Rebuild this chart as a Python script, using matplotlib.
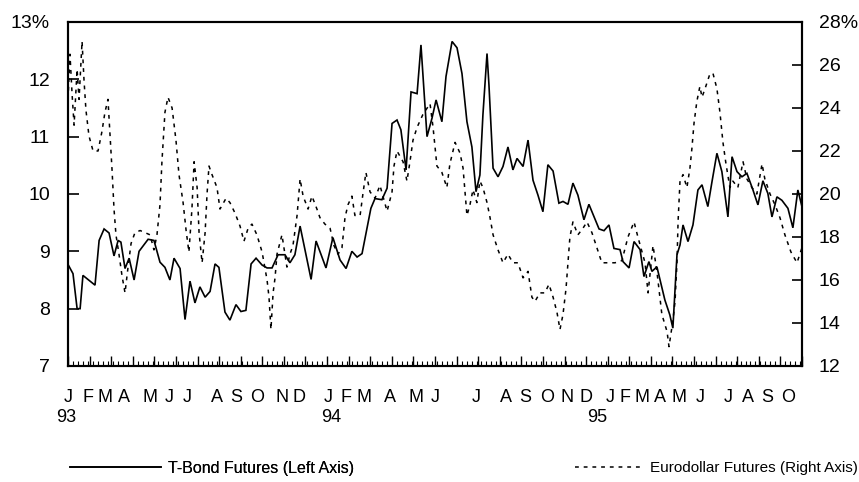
import matplotlib
matplotlib.use('Agg')
import matplotlib.pyplot as plt
import matplotlib.transforms as mtransforms
from matplotlib.ticker import MultipleLocator
from matplotlib.lines import Line2D

plt.rcParams['font.family'] = ['Liberation Sans', 'DejaVu Sans']

# time in months since Jan 1993 (0 = start of Jan 93)
tbond_t = [0.00, 0.23, 0.42, 0.56, 0.69, 1.25, 1.44, 1.67, 1.90, 2.13, 2.32, 2.45, 2.64, 2.83,
           3.06, 3.29, 3.71, 3.98, 4.26, 4.49, 4.72, 4.91, 5.19, 5.42, 5.65, 5.88, 6.11, 6.35,
           6.58, 6.81, 6.99, 7.27, 7.50, 7.78, 8.01, 8.24, 8.48, 8.71, 8.99, 9.22, 9.45, 9.73,
           10.05, 10.28, 10.51, 10.75, 11.26, 11.49, 11.95, 12.27, 12.60, 12.88, 13.15, 13.39,
           13.62, 14.03, 14.22, 14.54, 14.78, 15.01, 15.24, 15.42, 15.66, 15.89, 16.17, 16.35,
           16.63, 16.86, 17.05, 17.32, 17.51, 17.79, 18.02, 18.25, 18.48, 18.71, 18.90, 19.08,
           19.22, 19.41, 19.50, 19.69, 19.92, 20.15, 20.38, 20.61, 20.80, 21.08, 21.31, 21.54,
           21.77, 22.00, 22.23, 22.47, 22.74, 22.93, 23.16, 23.39, 23.62, 23.90, 24.13, 24.36,
           24.60, 24.83, 25.06, 25.29, 25.57, 25.71, 25.99, 26.22, 26.50, 26.68, 26.91, 27.05,
           27.28, 27.65, 27.88, 28.02, 28.21, 28.35, 28.49, 28.72, 28.95, 29.18, 29.37, 29.64,
           29.83, 30.06, 30.29, 30.57, 30.76, 30.99, 31.22, 31.45, 31.73, 31.96, 32.19, 32.42,
           32.61, 32.84, 33.07, 33.35, 33.58, 33.81, 34.00]
tbond_v = [8.77, 8.61, 8.00, 8.00, 8.58, 8.41, 9.19, 9.39, 9.32, 8.92, 9.19, 9.16, 8.70, 8.88,
           8.50, 9.00, 9.21, 9.19, 8.81, 8.72, 8.50, 8.88, 8.70, 7.81, 8.48, 8.10, 8.38, 8.20,
           8.30, 8.78, 8.72, 7.94, 7.80, 8.07, 7.95, 7.97, 8.78, 8.88, 8.76, 8.71, 8.71, 8.94,
           8.94, 8.80, 8.94, 9.44, 8.51, 9.18, 8.71, 9.24, 8.85, 8.70, 9.00, 8.90,
           8.96, 9.75, 9.92, 9.90, 10.10, 11.23, 11.29, 11.12, 10.42, 11.78, 11.75, 12.60,
           11.00, 11.32, 11.64, 11.26, 12.05, 12.66, 12.55, 12.10, 11.26, 10.82, 10.04, 10.33,
           11.38, 12.45, 11.90, 10.45, 10.30, 10.48, 10.82, 10.42, 10.62, 10.48, 10.94, 10.24,
           9.98, 9.69, 10.51, 10.40, 9.84, 9.87, 9.82, 10.19, 9.98, 9.55, 9.82, 9.61,
           9.39, 9.36, 9.46, 9.05, 9.03, 8.82, 8.71, 9.17, 9.03, 8.56, 8.82, 8.65,
           8.73, 8.15, 7.89, 7.66, 8.94, 9.11, 9.46, 9.17, 9.46, 10.07, 10.16, 9.78,
           10.21, 10.71, 10.39, 9.60, 10.65, 10.39, 10.30, 10.36, 10.07, 9.81, 10.23, 10.01,
           9.60, 9.95, 9.89, 9.75, 9.41, 10.07, 9.78]

euro_t = [0.00, 0.09, 0.19, 0.28, 0.42, 0.51, 0.65, 0.74, 0.83, 0.97, 1.16, 1.39, 1.57, 1.71,
          1.85, 1.95, 2.04, 2.13, 2.22, 2.36, 2.50, 2.64, 2.78, 2.92, 3.10, 3.34, 3.57, 3.80,
          3.98, 4.12, 4.26, 4.35, 4.49, 4.63, 4.82, 5.00, 5.14, 5.33, 5.47, 5.60, 5.74, 5.84,
          5.98, 6.07, 6.21, 6.35, 6.44, 6.53, 6.67, 6.90, 7.04, 7.32, 7.50, 7.74, 7.97, 8.15,
          8.34, 8.52, 8.75, 8.99, 9.22, 9.31, 9.40, 9.50, 9.59, 9.68, 9.91, 10.14, 10.28, 10.42,
          10.61, 10.75, 10.89, 11.12, 11.30, 11.53, 11.67, 11.90, 12.14, 12.32, 12.51, 12.69,
          12.83, 12.97, 13.15, 13.29, 13.53, 13.66, 13.80, 13.99, 14.22, 14.45, 14.78, 15.01,
          15.10, 15.24, 15.52, 15.70, 15.84, 15.98, 16.17, 16.44, 16.77, 16.91, 17.09, 17.32,
          17.55, 17.69, 17.93, 18.16, 18.30, 18.48, 18.62, 18.76, 18.94, 19.08, 19.22, 19.41,
          19.55, 19.69, 19.92, 20.15, 20.38, 20.61, 20.84, 21.08, 21.31, 21.49, 21.63, 21.86,
          22.09, 22.28, 22.47, 22.65, 22.79, 22.93, 23.07, 23.16, 23.25, 23.39, 23.62, 23.85,
          24.04, 24.27, 24.50, 24.73, 25.01, 25.34, 25.66, 25.94, 26.22, 26.40, 26.73, 26.87,
          27.10, 27.28, 27.51, 27.75, 27.84, 28.02, 28.12, 28.21, 28.26, 28.35, 28.49, 28.67,
          28.81, 28.90, 29.00, 29.13, 29.27, 29.37, 29.51, 29.74, 29.88, 30.06, 30.20, 30.34,
          30.48, 30.66, 30.80, 31.03, 31.27, 31.45, 31.68, 31.91, 32.15, 32.28, 32.52, 32.75,
          32.98, 33.21, 33.49, 33.77, 34.00]
euro_v = [24.4, 26.5, 24.6, 23.2, 25.8, 24.4, 27.1, 25.3, 23.9, 22.7, 22.0, 22.0, 22.9, 23.8,
          24.4, 22.7, 21.1, 19.3, 18.1, 17.2, 16.2, 15.4, 16.6, 17.7, 18.2, 18.3, 18.2, 18.1,
          17.4, 18.1, 19.5, 21.5, 23.8, 24.5, 24.0, 22.5, 20.9, 19.6, 18.3, 17.3, 19.3, 21.5,
          20.3, 18.2, 16.8, 18.2, 20.0, 21.3, 20.9, 20.3, 19.3, 19.8, 19.6, 19.1, 18.5, 17.8,
          18.4, 18.6, 18.1, 17.3, 16.0, 15.2, 13.7, 15.4, 16.1, 17.2, 18.1, 16.6, 17.2, 17.6,
          19.0, 20.7, 19.9, 19.3, 19.9, 19.3, 18.9, 18.6, 18.4, 17.6, 17.2, 17.5,
          18.9, 19.5, 19.9, 19.0, 19.0, 20.0, 21.0, 20.1, 19.8, 20.4, 19.2, 20.1,
          21.3, 22.0, 21.5, 20.6, 21.5, 22.5, 23.1, 23.7, 24.2, 23.1, 21.3, 21.0,
          20.3, 21.4, 22.4, 21.9, 21.2, 19.0, 19.5, 20.2, 19.6, 20.6, 20.3, 19.6,
          18.9, 18.1, 17.4, 16.8, 17.2, 16.8, 16.8, 16.1, 16.4, 15.2, 15.0, 15.4,
          15.4, 15.8, 15.2, 14.5, 13.7, 14.4, 15.6, 16.8, 18.0, 18.7, 18.1, 18.4,
          18.7, 18.2, 17.5, 16.8, 16.8, 16.8, 16.9, 18.0, 18.7, 18.0, 16.8, 15.4,
          17.6, 16.4, 14.4, 13.6, 12.9, 14.1, 15.0, 16.8, 18.7, 20.6, 20.9, 20.3,
          21.2, 22.1, 23.3, 24.3, 25.0, 24.5, 24.9, 25.6, 25.6, 24.9, 23.8, 22.4,
          21.4, 20.3, 20.6, 20.3, 21.5, 20.7, 20.3, 20.0, 21.4, 20.7, 20.0, 19.5,
          18.9, 18.1, 17.3, 16.8, 17.5]

month_letters = ['J', 'F', 'M', 'A', 'M', 'J', 'J', 'A', 'S', 'O', 'N', 'D'] * 2 + \
                ['J', 'F', 'M', 'A', 'M', 'J', 'J', 'A', 'S', 'O']
# where the month letters sit (hand spaced in the original)
letter_pos = [0.0, 0.93, 1.7, 2.6, 3.8, 4.7, 5.5, 6.9, 7.8, 8.75, 9.9, 10.7,
              12.05, 12.9, 13.7, 14.9, 16.1, 17.0, 18.9, 20.3, 21.2, 22.2, 23.1, 24.0,
              25.1, 25.8, 26.6, 27.4, 28.3, 29.3, 30.6, 31.5, 32.4, 33.35]
year_labels = ['93', '94', '95']
year_pos = [-0.1, 12.2, 24.5]

fig = plt.figure(figsize=(8.59, 4.82), dpi=100)
ax = fig.add_axes([0.0792, 0.2407, 0.8544, 0.7137])
ax2 = ax.twinx()

ax.plot(tbond_t, tbond_v, color='black', lw=1.2, solid_joinstyle='miter')
ax2.plot(euro_t, euro_v, color='black', lw=1.1, ls=(0, (2.5, 3.2)))

ax.set_xlim(0, 34)
ax.set_ylim(7, 13)
ax2.set_ylim(12, 28)

ax.set_yticks(range(7, 14))
ax.set_yticklabels(['7', '8', '9', '10', '11', '12', '13%'])
ax2.set_yticks(range(12, 29, 2))
ax2.set_yticklabels(['12', '14', '16', '18', '20', '22', '24', '26', '28%'])

ax.set_xticks(range(0, 35))
ax.set_xticklabels([])
ax.xaxis.set_minor_locator(MultipleLocator(12 / 52))
ax.tick_params(axis='x', which='major', direction='in', length=7, width=1)
ax.tick_params(axis='x', which='minor', direction='in', length=3.5, width=0.8)
ax.tick_params(axis='y', direction='in', length=8, width=1.2, labelsize=14, pad=13)
ax2.tick_params(axis='y', direction='in', length=7, width=1.2, labelsize=14, pad=12)

for a in (ax, ax2):
    for s in a.spines.values():
        s.set_linewidth(1.5)

trans = mtransforms.blended_transform_factory(ax.transData, ax.transAxes)
for p, lab in zip(letter_pos, month_letters):
    ax.text(p, -0.093, lab, transform=trans, ha='center', va='center', fontsize=13)
for p, lab in zip(year_pos, year_labels):
    ax.text(p, -0.151, lab, transform=trans, ha='center', va='center', fontsize=13)

h1 = Line2D([], [], color='black', lw=1.2)
h2 = Line2D([], [], color='black', lw=1.1, ls=(0, (2.5, 3.2)))
leg1 = fig.legend([h1], ['T-Bond Futures (Left Axis)'], loc='center left',
                  bbox_to_anchor=(70 / 859, 0.029), frameon=False, fontsize=11.5,
                  handlelength=5.7, handletextpad=0.45, borderpad=0, borderaxespad=0)
leg2 = fig.legend([h2], ['Eurodollar Futures (Right Axis)'], loc='center left',
                  bbox_to_anchor=(575 / 859, 0.029), frameon=False, fontsize=11,
                  handlelength=4.3, handletextpad=0.6, borderpad=0, borderaxespad=0)
fig.add_artist(leg1)

fig.savefig('out.png', dpi=100)
